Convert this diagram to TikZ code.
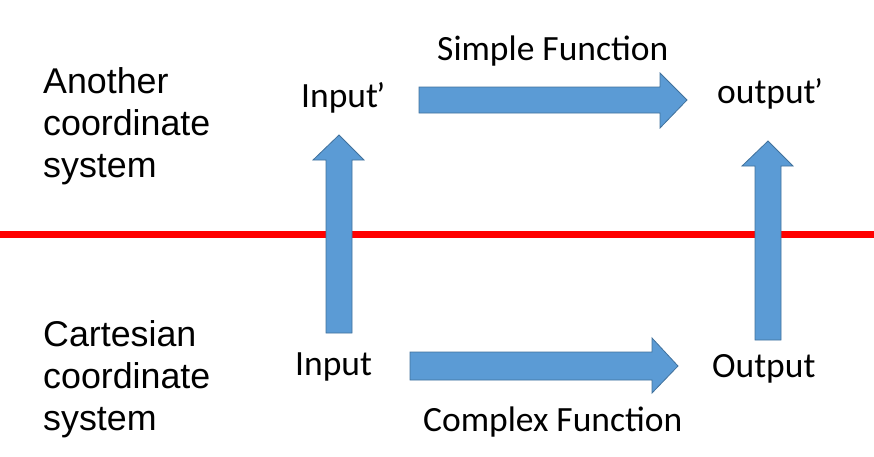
\documentclass[tikz,border=0pt]{standalone}
\usepackage{fontspec}
\setmainfont{Carlito}
\newfontfamily\arialfont{Liberation Sans}
\definecolor{arrowblue}{HTML}{5B9BD5}
\definecolor{arrowedge}{HTML}{41719C}
\begin{document}
\begin{tikzpicture}[x=1pt,y=-1pt,
  blockarrow/.style={fill=arrowblue,draw=arrowedge,line width=0.8pt,line join=miter},
  sidelabel/.style={font=\arialfont\fontsize{35.8}{42}\selectfont,align=left,anchor=north west,inner sep=0pt},
  maplabel/.style={font=\fontsize{35.5}{42}\selectfont,anchor=base west,inner sep=0pt}]
\useasboundingbox (0,0) rectangle (874,456);
% red separator
\draw[red,line width=7pt] (0,234) -- (874,234);
% top horizontal arrow
\draw[blockarrow] (419,87) -- (660,87) -- (660,73) -- (687,100) -- (660,128) -- (660,113) -- (419,113) -- cycle;
% bottom horizontal arrow
\draw[blockarrow] (410,352) -- (652,352) -- (652,338) -- (678,366) -- (652,393) -- (652,380) -- (410,380) -- cycle;
% left vertical arrow
\draw[blockarrow] (326,333) -- (326,160) -- (313,160) -- (339,135) -- (364,160) -- (352,160) -- (352,333) -- cycle;
% right vertical arrow
\draw[blockarrow] (755,340) -- (755,166) -- (742,166) -- (768,141) -- (793,166) -- (781,166) -- (781,340) -- cycle;
% side labels
\node[sidelabel] (another) at (43,67) {Another\\coordinate\\system};
\node[sidelabel] (cartesian) at (43,320) {Cartesian\\coordinate\\system};
% map labels
\node[maplabel] (simple) at (437,60) {Simple Function};
\node[maplabel] (complex) at (423,431) {Complex Function};
\node[maplabel] (inputp) at (301,107) {Input\kern-1.5pt’};
\node[maplabel] (outputp) at (717,103) {output\kern-1.5pt’};
\node[maplabel] (input) at (295,375) {Input};
\node[maplabel] (output) at (712,377) {Output};
\end{tikzpicture}
\end{document}
